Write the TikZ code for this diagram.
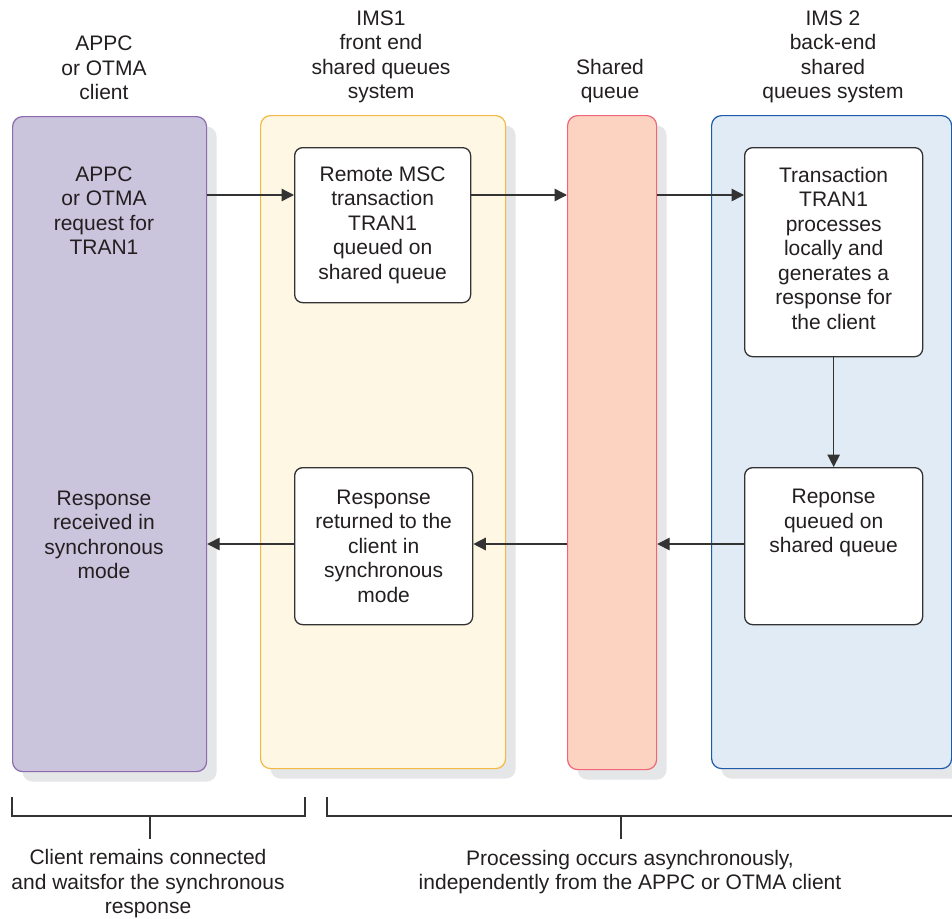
\documentclass[tikz,border=0pt]{standalone}
\usepackage{fontspec}
\setmainfont{Liberation Sans}
\usetikzlibrary{shadows,arrows.meta}
\definecolor{purplefill}{HTML}{CAC4DD}
\definecolor{purpleline}{HTML}{8B6BAE}
\definecolor{yellowfill}{HTML}{FEF7E4}
\definecolor{yellowline}{HTML}{F4B942}
\definecolor{pinkfill}{HTML}{FCD3C1}
\definecolor{pinkline}{HTML}{EE6677}
\definecolor{bluefill}{HTML}{E1EBF6}
\definecolor{blueline}{HTML}{1C5AAA}
\definecolor{shadowgray}{HTML}{E5E6E8}
\definecolor{ink}{HTML}{231F20}
\definecolor{linegray}{HTML}{333333}
\tikzset{
  col/.style={draw, line width=1.2pt, rounded corners=10pt, anchor=north west, inner sep=0pt,
    general shadow={fill=shadowgray, shadow xshift=10pt, shadow yshift=-10pt}},
  inbox/.style={draw=linegray, fill=white, line width=1.3pt, rounded corners=8pt, anchor=north west, inner sep=0pt,
    align=center, font=\fontsize{21}{24.5}\selectfont, text=ink},
  txt/.style={align=center, font=\fontsize{21}{24.5}\selectfont, text=ink, inner sep=0pt},
  arr/.style={draw=linegray, line width=1.4pt, -{Triangle[length=12.5pt,width=12.5pt]}},
  bracket/.style={draw=linegray, line width=1.3pt}
}
\begin{document}
\begin{tikzpicture}[x=1pt,y=-1pt]
\useasboundingbox (0,0) rectangle (952,918);
\clip (0,0) rectangle (952,918);
\fill[white] (0,0) rectangle (952,918);
% columns
\node[col, fill=purplefill, draw=purpleline, minimum width=194pt, minimum height=655pt] (client) at (12,116) {};
\node[col, fill=yellowfill, draw=yellowline, minimum width=245pt, minimum height=653pt] (front) at (260,115) {};
\node[col, fill=pinkfill, draw=pinkline, minimum width=89pt, minimum height=654pt] (queue) at (567,115) {};
\node[col, fill=bluefill, draw=blueline, minimum width=240pt, minimum height=653pt] (back) at (711,115) {};
% headers
\node[txt] (hclient) at (104,68) {APPC\\or OTMA\\client};
\node[txt] (hfront) at (381,57) {IMS1\\front end\\shared queues\\system};
\node[txt] (hqueue) at (610,81) {Shared\\queue};
\node[txt] (hback) at (833,57) {IMS 2\\back-end\\shared\\queues system};
% client texts
\node[txt] (req) at (104,210.5) {APPC\\or OTMA\\request for\\TRAN1};
\node[txt] (recv) at (104,535) {Response\\received in\\synchronous\\mode};
% inner boxes
\node[inbox, minimum width=176pt, minimum height=155pt] (remote) at (294,147) {Remote MSC\\transaction\\TRAN1\\queued on\\shared queue};
\node[inbox, minimum width=178pt, minimum height=209pt] (trans) at (744,147) {};
\node[txt] (transtxt) at ([yshift=4pt]trans.center) {Transaction\\TRAN1\\processes\\locally and\\generates a\\response for\\the client};
\node[inbox, minimum width=178pt, minimum height=157pt] (resp) at (294,467) {Response\\returned to the\\client in\\synchronous\\mode};
\node[inbox, minimum width=178pt, minimum height=157pt] (queued) at (744,467) {};
\node[txt, anchor=north] (queuedtxt) at ([yshift=-22pt]queued.north) {Reponse\\queued on\\shared queue};
% arrows
\draw[arr] (client.east |- 0,195) -- (remote.west |- 0,195);
\draw[arr] (remote.east |- 0,195) -- (queue.west |- 0,195);
\draw[arr] (queue.east |- 0,195) -- (trans.west |- 0,195);
\draw[arr] (trans.south) -- (trans.south |- queued.north);
\draw[arr] (queued.west |- 0,544) -- (queue.east |- 0,544);
\draw[arr] (queue.west |- 0,544) -- (resp.east |- 0,544);
\draw[arr] (resp.west |- 0,544) -- (client.east |- 0,544);
% brackets
\draw[bracket] (12,797) -- (12,816) -- (305,816) -- (305,797);
\draw[bracket] (150,816) -- (150,839);
\draw[bracket] (327,797) -- (327,816) -- (960,816);
\draw[bracket] (621,816) -- (621,839);
\node[txt] (leftnote) at (148,884) {Client remains connected\\and waitsfor the synchronous\\response};
\node[txt] (rightnote) at (630,872) {Processing occurs asynchronously,\\independently from the APPC or OTMA client};
\end{tikzpicture}
\end{document}
